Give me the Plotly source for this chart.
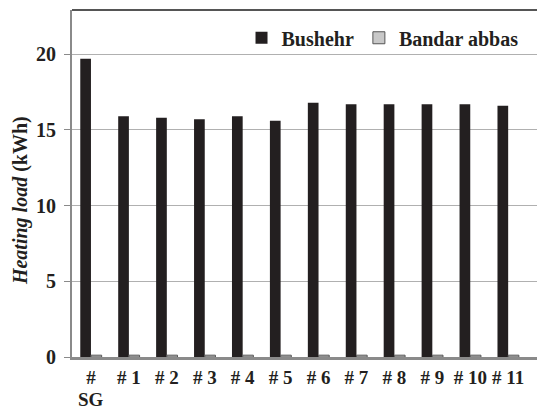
import plotly.graph_objects as go

categories = ["#", "# 1", "# 2", "# 3", "# 4", "# 5", "# 6", "# 7", "# 8", "# 9", "# 10", "# 11"]
first_category_second_line = "SG"
bushehr = [19.7, 15.9, 15.8, 15.7, 15.9, 15.6, 16.8, 16.7, 16.7, 16.7, 16.7, 16.6]
bandar_abbas = [0.12, 0.12, 0.12, 0.12, 0.12, 0.12, 0.12, 0.12, 0.12, 0.12, 0.12, 0.12]
y_ticks = [0, 5, 10, 15, 20]

FONT = "Liberation Serif, Times New Roman, serif"
FS = 20
XFS = 19

fig = go.Figure()
fig.add_trace(go.Bar(x=list(range(len(categories))), y=bushehr, name="<b>Bushehr</b>",
                     marker=dict(color="#231f20", line=dict(width=0))))
fig.add_trace(go.Bar(x=list(range(len(categories))), y=bandar_abbas, name="<b>Bandar abbas</b>",
                     marker=dict(color="#c8c8c8", line=dict(color="#555555", width=1))))

fig.update_layout(
    width=537, height=411,
    margin=dict(l=72, r=0, t=10, b=54, autoexpand=False),
    paper_bgcolor="white", plot_bgcolor="white",
    barmode="group", bargap=0.436, bargroupgap=0,
    font=dict(family=FONT, size=FS, color="#231f20"),
    showlegend=True,
    legend=dict(orientation="h", x=0.971, xanchor="right", y=0.92, yanchor="middle",
                font=dict(family=FONT, size=FS),
                bgcolor="rgba(0,0,0,0)", itemwidth=30, traceorder="normal",
                itemclick=False),
)
fig.update_xaxes(
    tickmode="array", tickvals=list(range(len(categories))),
    ticktext=["<b>%s</b>" % c for c in categories],
    range=[-0.5, 11.76], showgrid=False, zeroline=False,
    showline=True, linecolor="#8a8a8a", linewidth=3,
    ticks="", tickfont=dict(family=FONT, size=XFS),
    ticklabelstandoff=1, automargin=False,
)
fig.update_yaxes(
    range=[0, 22.92], tickmode="array", tickvals=y_ticks,
    ticktext=["<b>%d</b>" % v for v in y_ticks],
    showgrid=True, gridcolor="#b0b0b0", gridwidth=1, zeroline=False,
    showline=True, linecolor="#8a8a8a", linewidth=2, mirror=False,
    ticks="outside", ticklen=6, tickcolor="#8a8a8a", tickwidth=1,
    tickfont=dict(family=FONT, size=FS),
    ticklabelstandoff=4, automargin=False,
)
# y-axis title (positioned as in the reference)
fig.add_annotation(text="<b><i>Heating load</i> (kWh)</b>", textangle=-90,
                   xref="paper", yref="paper", x=-0.112, y=0.452,
                   xanchor="center", yanchor="middle", showarrow=False,
                   font=dict(family=FONT, size=FS))
# second line of the first category label
fig.add_annotation(text="<b>%s</b>" % first_category_second_line, xref="x", yref="paper",
                   x=0, y=-0.1556, xanchor="center", yanchor="bottom", showarrow=False,
                   borderpad=0, font=dict(family=FONT, size=XFS))
# top frame line
fig.add_shape(type="line", xref="paper", yref="paper", x0=0, x1=1, y0=1, y1=1,
              line=dict(color="#555555", width=2))

fig.write_html("out.html", config={"displayModeBar": False},
               post_script="document.body.style.margin='0';document.body.style.padding='0';")
